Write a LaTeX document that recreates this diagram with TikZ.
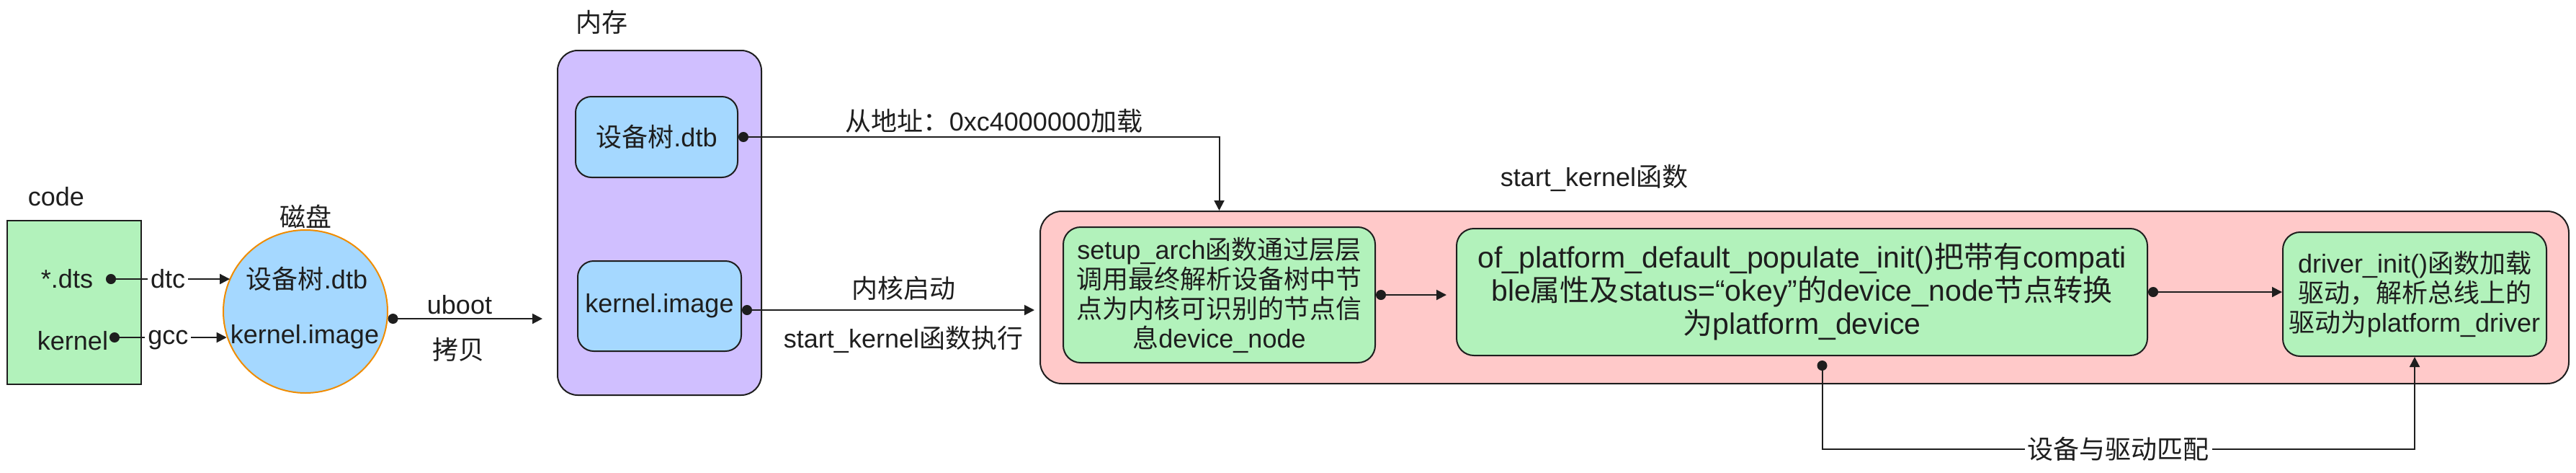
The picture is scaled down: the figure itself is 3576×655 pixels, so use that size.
\documentclass[tikz,border=0pt]{standalone}
\usepackage{fontspec}
\setmainfont{Liberation Sans}
\newfontfamily\cjk{Noto Sans CJK SC}
\newcommand\zh[1]{{\cjk #1}}
\usetikzlibrary{arrows.meta,shapes.geometric}
\definecolor{ink}{HTML}{1E1E1E}
\definecolor{cgreen}{HTML}{B2F2BB}
\definecolor{cblue}{HTML}{A5D8FF}
\definecolor{cpurple}{HTML}{D0BFFF}
\definecolor{cpink}{HTML}{FFC9C9}
\definecolor{corange}{HTML}{F08C00}
\begin{document}
\begin{tikzpicture}[x=0.5pt,y=-0.5pt,
  txt/.style={font=\fontsize{18}{21}\selectfont, inner sep=0pt, text=ink},
  wlbl/.style={txt, fill=white, inner sep=2pt},
  boxbase/.style={draw=ink, line width=1pt, inner sep=0pt},
  rbox/.style={boxbase, rounded corners=#1},
  conn/.style={draw=ink, line width=1pt, {Circle[length=7pt]}-{Triangle[length=7pt,width=7pt]}},
  bigtxt/.style={font=\fontsize{20.5}{23}\selectfont, text=ink, align=center},
  midtxt/.style={font=\fontsize{18}{20.5}\selectfont, text=ink, align=center},
]
\useasboundingbox (0,0) rectangle (3576,655);

% code
\node[txt] (codelbl) at (78,273) {code};
\node[boxbase, fill=cgreen, minimum width=93pt, minimum height=113.5pt] (code) at (103,419.5) {};
\node[txt] (dts) at (93,387) {*.dts};
\node[txt] (kern) at (101,473) {kernel};
\coordinate (dtsdot) at (147,387);
\coordinate (kdot) at (152,468);

% disk
\node[txt] (disklbl) at (424,300) {\zh{磁盘}};
\node[ellipse, draw=corange, line width=1pt, fill=cblue, minimum width=114pt, minimum height=113pt, inner sep=0pt] (ell) at (424,432) {};
\node[txt] (edtb) at (426,387) {\zh{设备树}.dtb};
\node[txt] (eimg) at (423,467) {kernel.image};

\draw[conn] (dtsdot) -- node[wlbl]{dtc} (dtsdot -| ell.156.7);
\draw[conn] (kdot) -- node[wlbl, yshift=-2pt]{gcc} (kdot -| ell.198.6);

% memory
\node[txt] (memlbl) at (835,31) {\zh{内存}};
\node[rbox=14pt, fill=cpurple, minimum width=141.5pt, minimum height=239pt] (mem) at (915.5,309) {};
\node[rbox=11pt, fill=cblue, minimum width=112.5pt, minimum height=56pt, txt] (dtbm) at (911.5,190) {\zh{设备树}.dtb};
\node[rbox=11pt, fill=cblue, minimum width=113.5pt, minimum height=62.5pt, txt] (kimg) at (915.5,424.5) {kernel.image};

\draw[conn, shorten >=10pt] (ell.-5) -- (ell.-5 -| mem.west);
\node[txt] (uboot) at (638,423) {uboot};
\node[txt] (copy) at (636,485) {\zh{拷贝}};

% kernel container
\node[txt] (sklbl) at (2213,247) {start\_kernel\zh{函数}};
\node[rbox=15pt, fill=cpink, minimum width=1061pt, minimum height=119.5pt] (pink) at (2505,412.5) {};
\node[rbox=12pt, fill=cgreen, minimum width=216.5pt, minimum height=94pt, midtxt] (setup) at (1692.5,409)
  {setup\_arch\zh{函数通过层层}\\\zh{调用最终解析设备树中节}\\\zh{点为内核可识别的节点信}\\\zh{息}device\_node};
\node[rbox=12pt, fill=cgreen, minimum width=479.5pt, minimum height=88pt, bigtxt] (of) at (2501.5,405)
  {of\_platform\_default\_populate\_init()\zh{把带有}compati\\ble\zh{属性及}status=“okey”\zh{的}device\_node\zh{节点转换}\\\zh{为}platform\_device};
\node[rbox=12pt, fill=cgreen, minimum width=183pt, minimum height=86pt, midtxt] (drv) at (3352,408)
  {driver\_init()\zh{函数加载}\\\zh{驱动，解析总线上的}\\\zh{驱动为}platform\_driver};

% connectors from memory
\draw[conn] (dtbm.east) -- (dtbm.east -| setup.north) -- (setup.north |- pink.north);
\node[txt] (addr) at (1380,168) {\zh{从地址：}0xc4000000\zh{加载}};
\coordinate (kout) at ([yshift=-2.75pt]kimg.east);
\draw[conn, shorten >=3.5pt] (kout) -- (kout -| pink.west);
\node[txt] (boot) at (1254,400) {\zh{内核启动}};
\node[txt] (skexec) at (1254,471) {start\_kernel\zh{函数执行}};

% inside kernel
\draw[conn, shorten >=6.5pt] (setup.east) -- (setup.east -| of.west);
\draw[conn] (of.east) -- (of.east -| drv.west);
\coordinate (ofdot) at ([xshift=14pt,yshift=-3pt]of.south);
\coordinate (mline) at (0,623);
\draw[conn] (ofdot) -- (ofdot |- mline) -- node[wlbl]{\zh{设备与驱动匹配}} (drv.south |- mline) -- (drv.south);
\end{tikzpicture}
\end{document}
